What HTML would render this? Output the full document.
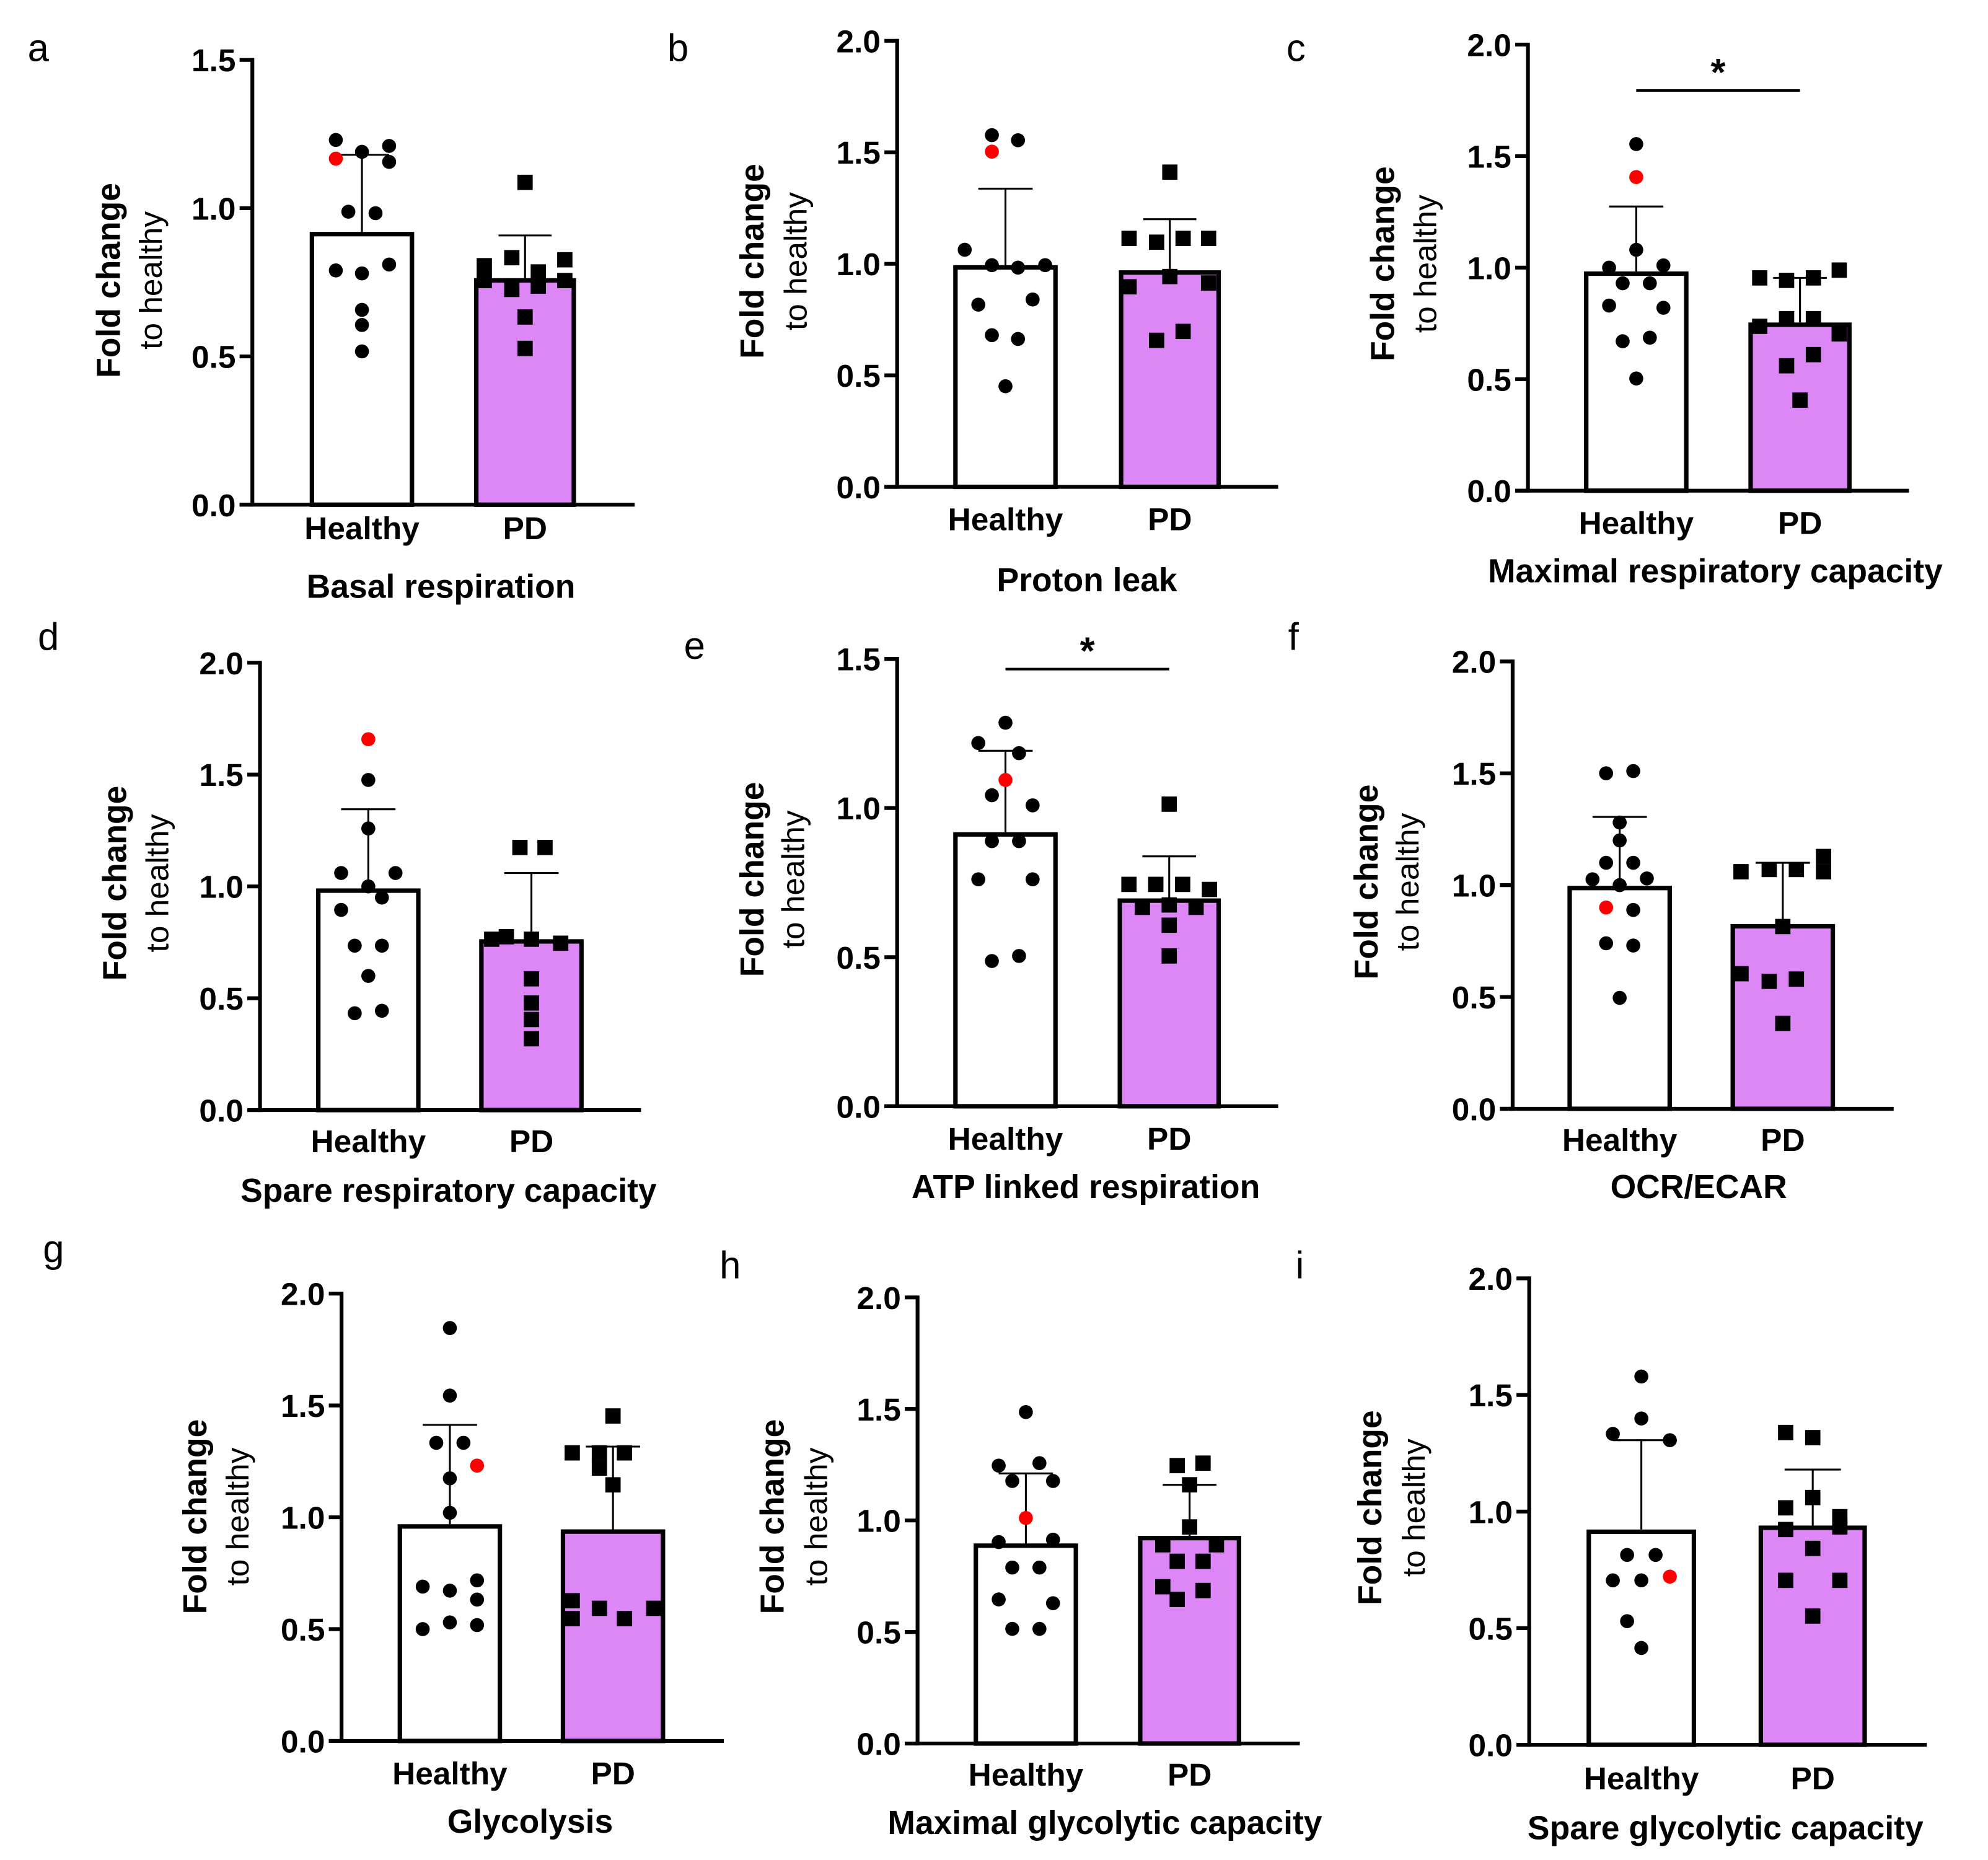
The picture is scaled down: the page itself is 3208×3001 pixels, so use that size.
<!DOCTYPE html>
<html><head><meta charset="utf-8"><style>
html,body{margin:0;padding:0;background:#fff}
svg{display:block}
text{font-family:"Liberation Sans",Arial,sans-serif;fill:#000}
</style></head><body>
<svg id="fig" width="3208" height="3001" viewBox="0 0 1560 1459.4" xmlns="http://www.w3.org/2000/svg"></svg>
<script>
const categories = ['Healthy','PD'];
const panelLetters = ['a','b','c','d','e','f','g','h','i'];
const panelTitles = ['Basal respiration','Proton leak','Maximal respiratory capacity','Spare respiratory capacity','ATP linked respiration','OCR/ECAR','Glycolysis','Maximal glycolytic capacity','Spare glycolytic capacity'];
const yMaxes = [1.5,2.0,2.0,2.0,1.5,2.0,2.0,2.0,2.0];
const meanHealthy = [0.92,0.994,0.983,0.991,0.919,0.997,0.969,0.897,0.923];
const meanPD = [0.764,0.971,0.754,0.764,0.697,0.826,0.946,0.931,0.94];
const errHealthy = [1.18,1.337,1.274,1.345,1.192,1.305,1.413,1.211,1.306];
const errPD = [0.908,1.2,0.954,1.06,0.838,1.1,1.316,1.16,1.18];
const sigPairs = [false,false,true,false,true,false,false,false,false];
const healthyPts = [
 [[-0.25,1.23],[0,1.19],[0.26,1.21],[0.26,1.156],[-0.25,1.167],[-0.13,0.988],[0.13,0.983],[-0.25,0.79],[0,0.78],[0.26,0.81],[0,0.657],[0,0.606],[0,0.517]],
 [[-0.13,1.577],[0.12,1.554],[-0.13,1.503],[-0.39,1.063],[-0.13,0.994],[0.12,0.983],[0.38,0.994],[-0.26,0.817],[0.26,0.84],[-0.13,0.68],[0.12,0.663],[0,0.451]],
 [[0,1.554],[0,1.406],[-0.26,1.0],[0,1.08],[0.26,1.01],[-0.13,0.93],[0.13,0.93],[-0.26,0.83],[0.26,0.82],[-0.13,0.67],[0.13,0.686],[0,0.503]],
 [[0,1.658],[0,1.476],[0,1.259],[-0.26,1.06],[0.26,1.06],[0,1.0],[-0.26,0.895],[0.13,0.95],[-0.13,0.735],[0.13,0.735],[0,0.6],[-0.13,0.433],[0.13,0.444]],
 [[0,1.286],[-0.26,1.218],[0.13,1.184],[0,1.094],[-0.13,1.043],[0.26,1.009],[-0.13,0.889],[0.13,0.889],[-0.26,0.761],[0.26,0.761],[-0.13,0.487],[0.13,0.504]],
 [[-0.13,1.5],[0.13,1.51],[0,1.28],[0,1.2],[-0.13,1.1],[0.13,1.1],[-0.26,1.026],[0,1.0],[0.26,1.03],[-0.13,0.9],[0.13,0.889],[-0.13,0.74],[0.13,0.73],[0,0.496]],
 [[0,1.846],[0,1.544],[-0.13,1.333],[0.13,1.333],[0.26,1.231],[0,1.174],[0,1.02],[-0.26,0.69],[0,0.672],[0.26,0.718],[0.26,0.632],[-0.26,0.5],[0,0.53],[0.26,0.518]],
 [[0,1.486],[-0.26,1.246],[0.13,1.257],[-0.13,1.177],[0.26,1.177],[0,1.011],[-0.26,0.903],[0.26,0.914],[-0.13,0.789],[0.13,0.789],[-0.26,0.646],[0.26,0.629],[-0.13,0.514],[0.13,0.514]],
 [[0,1.579],[-0.26,1.333],[0,1.399],[0.26,1.306],[-0.26,0.705],[0,0.705],[0.26,0.721],[-0.13,0.814],[0.13,0.814],[-0.13,0.53],[0,0.415]]
];
const redIndex = [4,2,1,0,3,9,4,5,6];
const pdPts = [
 [[0,1.087],[-0.4,0.806],[-0.13,0.833],[0.13,0.785],[0.39,0.826],[-0.4,0.756],[-0.13,0.726],[0.13,0.737],[0.39,0.756],[0,0.633],[0,0.527]],
 [[0,1.411],[-0.4,1.114],[-0.13,1.097],[0.13,1.114],[0.38,1.114],[-0.4,0.897],[0,0.943],[0.38,0.914],[0.13,0.697],[-0.13,0.657]],
 [[-0.39,0.954],[-0.13,0.943],[0.13,0.954],[0.38,0.989],[-0.39,0.737],[-0.13,0.771],[0.13,0.771],[0.38,0.703],[-0.13,0.56],[0.13,0.61],[0,0.406]],
 [[-0.11,1.174],[0.13,1.174],[-0.38,0.764],[-0.24,0.775],[0,0.764],[0.28,0.746],[0,0.587],[0,0.479],[0,0.405],[0,0.319]],
 [[0,1.013],[-0.39,0.744],[-0.13,0.744],[0.13,0.744],[0.39,0.727],[-0.26,0.667],[0,0.675],[0.26,0.667],[0,0.607],[0,0.504]],
 [[-0.4,1.06],[-0.13,1.07],[0.13,1.07],[0.39,1.128],[0.39,1.06],[0,0.815],[-0.4,0.604],[-0.13,0.57],[0.13,0.58],[0,0.382]],
 [[0,1.453],[-0.39,1.288],[-0.13,1.288],[0.11,1.288],[-0.13,1.22],[0,1.145],[-0.39,0.627],[-0.39,0.547],[-0.13,0.593],[0.11,0.547],[0.39,0.593]],
 [[-0.12,1.246],[0.13,1.257],[0,1.16],[0,0.971],[-0.26,0.891],[0.26,0.891],[-0.12,0.817],[0.13,0.817],[-0.26,0.703],[0.13,0.686],[-0.12,0.646]],
 [[-0.25,1.339],[0,1.317],[-0.25,1.016],[0,1.06],[0.25,0.978],[0.25,0.934],[-0.25,0.923],[0,0.842],[-0.25,0.705],[0.25,0.705],[0,0.552]]
];
const L = [
 {ax:198,y0:396,top:47,xe:498,b1:[243,325],b2:[372,452],lt:[30,38],yt:[85,118,220],tt:460,tx:346,ly:414},
 {ax:704,y0:382,top:32,xe:1003,b1:[748,830],b2:[878,958],lt:[532,38],yt:[590,624,205],tt:455,tx:853,ly:407},
 {ax:1199,y0:385,top:35,xe:1498,b1:[1243,1325],b2:[1372,1453],lt:[1017,38],yt:[1085,1118,207],tt:448,tx:1346,ly:410,sig:[71]},
 {ax:204,y0:871,top:520,xe:503,b1:[248,330],b2:[376,458],lt:[38,500],yt:[90,123,693],tt:934,tx:352,ly:895},
 {ax:704,y0:868,top:517,xe:1003,b1:[748,830],b2:[877,958],lt:[545,507],yt:[590,622,690],tt:931,tx:852,ly:893,sig:[525]},
 {ax:1187,y0:870,top:519,xe:1486,b1:[1230,1312],b2:[1358,1440],lt:[1015,500],yt:[1072,1104,692],tt:931,tx:1333,ly:894},
 {ax:268,y0:1366,top:1015,xe:568,b1:[312,394],b2:[440,522],lt:[42,980],yt:[153,186,1190],tt:1429,tx:416,ly:1391},
 {ax:720,y0:1368,top:1018,xe:1020,b1:[764,846],b2:[893,974],lt:[573,993],yt:[606,640,1190],tt:1430,tx:867,ly:1392},
 {ax:1200,y0:1369,top:1003,xe:1512,b1:[1245,1331],b2:[1380,1465],lt:[1020,993],yt:[1075,1109,1183],tt:1434,tx:1354,ly:1395}
];
const NS='http://www.w3.org/2000/svg';
const svg=document.getElementById('fig');
function mk(tag,attrs,parent){const e=document.createElementNS(NS,tag);for(const k in attrs)e.setAttribute(k,attrs[k]);(parent||svg).appendChild(e);return e;}
for(let p=0;p<9;p++){
 const l=L[p];
 const g=mk('g',{});
 
 
 const yS=v=>l.y0-(v/yMaxes[p])*(l.y0-l.top);
 const t=mk('text',{x:l.lt[0],y:l.lt[1]+10,'font-size':30,'text-anchor':'middle'},g);t.textContent=panelLetters[p];
 
 
 for(let v=0;v<=yMaxes[p]+1e-9;v+=0.5){
  const y=yS(v);
  const tk=mk('line',{x1:l.ax-10,x2:l.ax,y1:y,y2:y,stroke:'#000','stroke-width':3},g);
  
  
  const tl=mk('text',{x:l.ax-13,y:y+9,'font-size':25,'font-weight':'bold','text-anchor':'end'},g);tl.textContent=v.toFixed(1);
  
  
 }
 const bars=[[l.b1,meanHealthy[p],errHealthy[p],'#fff'],[l.b2,meanPD[p],errPD[p],'#dc87f5']];
 bars.forEach((b,i)=>{
  const [bx,m,e,fill]=b;const cx=(bx[0]+bx[1])/2,w=bx[1]-bx[0];
  const er=mk('line',{x1:cx,x2:cx,y1:yS(m),y2:yS(e),stroke:'#000','stroke-width':1.5},g);
  
  
  const cp=mk('line',{x1:cx-w*0.26,x2:cx+w*0.26,y1:yS(e),y2:yS(e),stroke:'#000','stroke-width':1.5},g);
  
  
  const r=mk('rect',{x:bx[0]+1.75,y:yS(m)+1.75,width:w-3.5,height:l.y0-yS(m)-1.75,fill:fill,stroke:'#000','stroke-width':3.5},g);
  
  
  const tx=mk('text',{x:cx,y:l.ly+9,'font-size':25,'font-weight':'bold','text-anchor':'middle'},g);tx.textContent=categories[i];
  
  
 });
 const c1=(l.b1[0]+l.b1[1])/2,w1=l.b1[1]-l.b1[0];
 healthyPts[p].forEach((pt,k)=>{
  const c=mk('circle',{cx:c1+pt[0]*w1,cy:yS(pt[1]),r:5.5,fill:k===redIndex[p]?'#f00':'#000'},g);
  
  
 });
 const c2=(l.b2[0]+l.b2[1])/2,w2=l.b2[1]-l.b2[0];
 pdPts[p].forEach(pt=>{
  const s=mk('rect',{x:c2+pt[0]*w2-6,y:yS(pt[1])-6,width:12,height:12,fill:'#000'},g);
  
  
 });
 const ya=mk('line',{x1:l.ax,x2:l.ax,y1:l.top-1.5,y2:l.y0+1.5,stroke:'#000','stroke-width':3},g);
 
 
 const xa=mk('line',{x1:l.ax-10,x2:l.xe,y1:l.y0,y2:l.y0,stroke:'#000','stroke-width':3},g);
 
 
 const t1=mk('text',{x:0,y:0,'font-size':26,'font-weight':'bold','text-anchor':'middle',transform:`translate(${l.yt[0]+9},${l.yt[2]}) rotate(-90)`},g);t1.textContent='Fold change';
 
 
 const t2=mk('text',{x:0,y:0,'font-size':25,'text-anchor':'middle',transform:`translate(${l.yt[1]+9},${l.yt[2]}) rotate(-90)`},g);t2.textContent='to healthy';
 
 
 const tt=mk('text',{x:l.tx,y:l.tt+9,'font-size':26,'font-weight':'bold','text-anchor':'middle'},g);tt.textContent=panelTitles[p];
 
 
 if(sigPairs[p]){
  const sy=l.sig[0];
  const sl=mk('line',{x1:c1,x2:c2,y1:sy,y2:sy,stroke:'#000','stroke-width':2},g);
  
  
  const st=mk('text',{x:(c1+c2)/2,y:sy-4,'font-size':30,'font-weight':'bold','text-anchor':'middle'},g);st.textContent='*';
  
  
 }
}
</script>
</body></html>
